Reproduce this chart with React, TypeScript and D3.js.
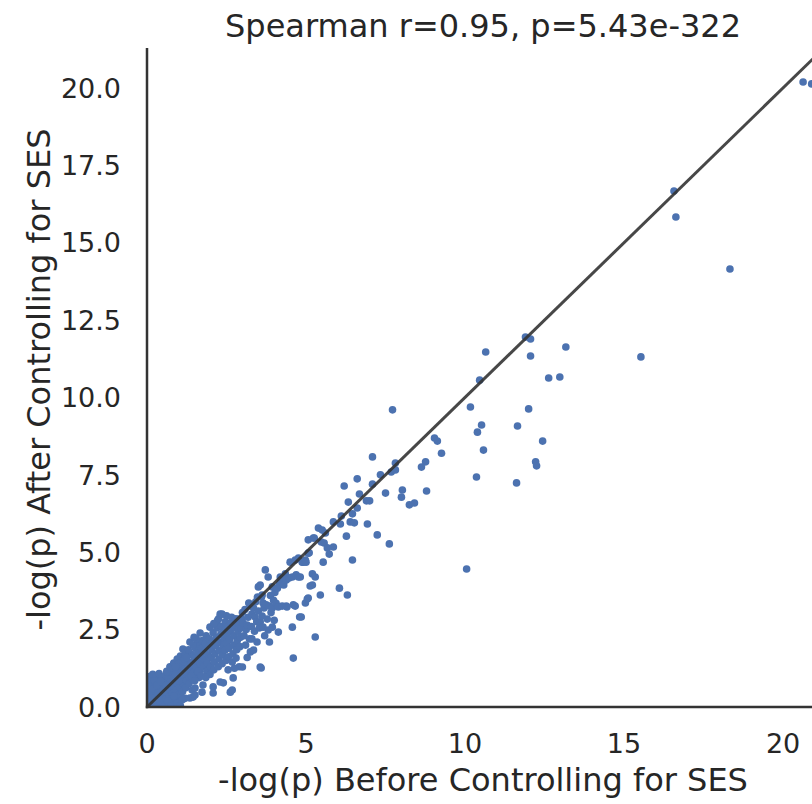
import React from "react";
import * as d3 from "d3";

// -log(p) before / after controlling for SES
const coreNearZero: [number, number][] = [
  [0.03,0.08],[0.05,0.32],[0.04,0.55],[0.06,0.78],[0.08,0.98],[0.1,0.18],[0.12,0.42],[0.14,0.66],[0.16,0.9],[0.18,1.06],
  [0.2,0.05],[0.22,0.28],[0.24,0.52],[0.26,0.76],[0.28,0.98],[0.3,0.14],[0.32,0.38],[0.34,0.62],[0.36,0.86],[0.38,1.08],
  [0.4,0.03],[0.42,0.24],[0.44,0.48],[0.46,0.72],[0.48,0.95],[0.5,0.12],[0.52,0.36],[0.54,0.6],[0.56,0.84],[0.58,1.02],
  [0.02,0.2],[0.07,0.45],[0.11,0.02],[0.15,0.3],[0.19,0.58],[0.23,0.85],[0.27,0.15],[0.31,0.7],[0.35,0.45],[0.39,0.2],
  [0.43,0.82],[0.47,0.3],[0.51,0.55],[0.55,0.04],[0.59,0.26],
  [0.62,0.48],[0.64,0.72],[0.66,0.95],[0.68,0.1],[0.7,0.32],[0.72,0.58],[0.74,0.82],[0.76,1.05],[0.78,0.2],[0.8,0.44],
  [0.82,0.68],[0.84,0.92],[0.86,1.12],[0.88,0.06],[0.9,0.3],[0.92,0.55],[0.94,0.78],[0.96,1.0],[0.98,1.2],[1.0,0.16],
  [1.02,0.4],[1.04,0.64],[1.06,0.88],[1.08,1.1],[1.1,1.3],[1.12,0.5],[1.14,0.75],[1.16,0.98],[1.18,1.18],[1.2,0.28],
  [1.22,0.62],[1.24,0.86],[1.26,1.08],[1.28,1.38],[0.65,0.2],[0.75,0.04],[0.85,0.35],[0.95,0.12],[1.05,0.04],[1.1,0.23],
  [0.7,1.15],[0.8,1.25],[0.9,1.05],[1.0,0.85],[0.6,0.7],
  [0.62,1.15],[0.72,1.3],[0.84,1.42],[0.95,1.55],[1.05,1.65],[1.0,1.4],[1.15,1.45],[0.9,1.3],
];

const lowerBand: [number, number][] = [
  [1.32,0.75],[1.34,0.98],[1.36,1.2],[1.38,1.45],[1.4,1.7],[1.35,0.29],[1.45,0.32],[1.42,0.55],[1.44,0.9],[1.46,1.12],
  [1.48,1.35],[1.5,1.58],[1.51,0.61],[1.51,0.39],[1.52,1.9],[1.54,1.02],[1.56,1.25],[1.58,1.5],[1.6,1.75],[1.62,2.05],
  [1.64,0.95],[1.66,1.18],[1.67,2.39],[1.68,1.4],[1.7,1.65],[1.72,1.9],[1.73,0.48],[1.74,2.15],[1.76,0.71],[1.78,1.3],
  [1.8,1.55],[1.82,1.8],[1.84,2.05],[1.86,2.3],[1.88,1.15],[1.9,1.42],[1.92,1.68],[1.94,1.95],[1.96,2.2],[1.98,1.05],
  [2.0,1.3],[1.13,1.87],[1.2,1.74],[1.18,1.55],[1.25,1.6],[1.3,1.85],[1.45,2.0],[1.55,2.2],[1.4,1.0],[1.6,1.15],
  [1.7,1.0],[1.85,0.95],[1.5,0.85],[1.35,2.1],[1.48,2.25],[1.98,2.58],[2.2,2.65],[2.39,2.55],
  [2.02,1.6],[2.04,1.85],[2.06,2.1],[2.08,2.4],[2.08,0.65],[2.08,0.45],[2.1,1.2],[2.12,1.45],[2.14,1.72],[2.16,1.98],
  [2.18,2.25],[2.2,2.55],[2.22,2.8],[2.24,1.3],[2.26,1.55],[2.28,1.82],[2.3,2.08],[2.3,3.0],[2.3,0.81],[2.32,2.35],
  [2.34,2.6],[2.36,1.4],[2.38,1.68],[2.4,0.78],[2.4,1.95],[2.42,2.22],[2.44,2.48],[2.46,1.84],[2.46,2.75],[2.48,1.5],
  [2.5,2.05],[2.5,2.95],[2.52,2.32],[2.54,2.6],[2.56,1.62],[2.58,1.9],[2.6,2.18],[2.62,0.48],[2.62,2.45],[2.64,2.72],
  [2.66,2.9],[2.68,0.55],[2.68,1.45],[2.7,1.72],[2.71,0.94],[2.72,2.0],[2.74,2.3],[2.76,2.58],[2.78,2.85],[2.8,1.58],
  [2.82,1.85],[2.84,2.15],[2.86,2.45],[2.87,2.84],[2.88,2.7],[2.9,1.3],[2.92,1.95],[2.94,2.25],[2.96,2.55],[2.98,2.85],
  [3.0,3.05],[2.1,2.7],[2.2,2.1],[2.25,2.85],[2.36,3.0],[2.55,1.2],[2.75,1.25],
];

const midBand: [number, number][] = [
  [3.02,2.71],[3.05,2.3],[3.08,3.15],[3.1,2.0],[3.12,2.5],[3.15,2.65],[3.18,2.9],[3.2,3.36],[3.22,2.2],[3.25,3.26],
  [3.25,1.78],[3.28,2.6],[3.3,3.0],[3.35,3.2],[3.35,1.84],[3.38,2.45],[3.4,2.91],[3.42,3.4],[3.45,2.75],[3.47,3.55],
  [3.5,3.88],[3.5,3.1],[3.53,2.55],[3.56,3.94],[3.56,2.75],[3.56,1.29],[3.59,1.26],[3.6,3.55],[3.62,3.62],[3.62,2.94],
  [3.65,3.36],[3.65,2.58],[3.68,3.2],[3.72,4.43],[3.75,3.3],[3.78,2.84],[3.81,4.2],[3.81,2.49],[3.85,3.26],[3.88,3.6],
  [3.9,3.05],[3.94,3.2],[3.94,3.88],[3.94,2.58],[3.98,3.45],[4.02,3.7],[4.06,3.35],[4.1,3.84],[4.13,3.23],[4.13,2.42],
  [4.16,3.95],[4.2,4.04],[3.0,1.29],[3.15,1.6],[3.3,2.2],[3.46,2.1],[3.7,2.3],[3.85,2.1],[4.0,2.8],
  [4.19,4.2],[4.25,3.26],[4.3,3.94],[4.35,4.3],[4.38,4.1],[4.38,3.26],[4.4,3.23],[4.47,4.17],[4.5,4.68],[4.57,4.2],
  [4.57,2.58],[4.6,3.3],[4.6,1.58],[4.66,4.75],[4.66,3.26],[4.69,4.27],[4.76,4.81],[4.76,4.2],[4.8,2.91],[4.82,4.2],
  [4.85,2.91],[4.88,4.68],[4.91,4.68],[4.98,4.75],[4.98,3.36],[5.0,4.68],[5.04,3.49],[5.07,4.97],[5.07,5.4],[5.07,3.52],
  [5.1,4.98],[5.13,3.91],[5.2,4.3],[5.2,3.94],[5.23,5.46],[5.26,5.46],[5.29,4.2],[5.29,2.26],[5.39,5.78],[5.45,3.62],
  [5.48,5.33],[5.51,5.72],[5.54,4.68],[5.57,5.3],[5.61,5.62],[5.67,5.14],[5.73,4.94],[5.86,5.98],[5.86,5.17],[6.05,3.84],
  [6.08,5.91],[6.11,6.17],[6.2,7.14],[6.27,5.52],[6.3,3.62],[6.33,6.62],[6.39,5.98],[6.46,6.24],[6.46,4.75],[6.52,5.95],
  [6.61,7.37],[6.61,6.43],[6.68,6.88],
];

const upperTail: [number, number][] = [
  [6.9,6.66],[6.93,5.91],[7.0,6.66],[7.09,8.08],[7.09,7.2],[7.24,5.56],[7.34,7.5],[7.5,6.91],[7.62,5.27],[7.68,7.59],
  [7.72,9.6],[7.81,7.88],[7.81,7.66],[8.0,6.78],[8.03,7.01],[8.25,6.53],[8.41,6.59],[8.63,7.75],[8.76,7.92],[8.79,6.98],
  [9.04,8.69],[9.13,8.59],[9.26,8.2],[10.05,4.46],[10.17,9.69],[10.36,7.43],[10.39,8.88],[10.46,10.56],[10.52,9.11],[10.58,8.3],
  [10.65,11.47],[11.62,7.24],[11.65,9.08],[11.9,11.95],[12.0,9.63],[12.06,11.89],[12.06,11.34],[12.22,7.92],[12.25,7.79],[12.44,8.59],
  [12.63,10.63],[12.98,10.66],[13.17,11.63],[15.53,11.31],[16.57,16.67],[16.63,15.83],[18.33,14.15],[20.63,20.19],[20.9,20.13],
];

const xTicks = [0, 5, 10, 15, 20];
const yTicks = [0, 2.5, 5, 7.5, 10, 12.5, 15, 17.5, 20];
const axisMax = { x: 21.13, y: 21.29 };
const titleText = "Spearman r=0.95, p=5.43e-322";
const xLabel = "-log(p) Before Controlling for SES";
const yLabel = "-log(p) After Controlling for SES";

export default function App() {
  const W = 812, H = 804;
  const left = 147, right = 819, top = 48, bottom = 707;
  const x = d3.scaleLinear().domain([0, axisMax.x]).range([left, right]);
  const y = d3.scaleLinear().domain([0, axisMax.y]).range([bottom, top]);
  const all = [...coreNearZero, ...lowerBand, ...midBand, ...upperTail];
  const lineMax = Math.min(axisMax.x, axisMax.y);
  const diag = d3.line<number>().x((d) => x(d)).y((d) => y(d))([0, lineMax]) || "";
  const font = "'DejaVu Sans', sans-serif";
  const txt = "#262626";
  return (
    <svg width={W} height={H} style={{ position: "absolute", left: 0, top: 0, background: "#fff" }} fontFamily={font}>
      <defs>
        <clipPath id="plotclip">
          <rect x={left} y={top} width={right - left} height={bottom - top} />
        </clipPath>
      </defs>
      <g clipPath="url(#plotclip)">
        {all.map((d, i) => (
          <circle key={i} cx={x(d[0])} cy={y(d[1])} r={3.8} fill="#4C72B0" />
        ))}
        <path d={diag} stroke="#333333" strokeOpacity={0.9} strokeWidth={3} fill="none" />
      </g>
      <line x1={left} x2={left} y1={top} y2={bottom + 1.2} stroke="#333" strokeWidth={2.5} />
      <line x1={left - 1.2} x2={W} y1={bottom} y2={bottom} stroke="#333" strokeWidth={2.5} />
      {xTicks.map((t) => (
        <text key={"x" + t} x={x(t)} y={753} textAnchor="middle" fontSize={27} fill={txt}>
          {t}
        </text>
      ))}
      {yTicks.map((t) => (
        <text key={"y" + t} x={121} y={y(t)} dy="0.36em" textAnchor="end" fontSize={27} fill={txt}>
          {d3.format(".1f")(t)}
        </text>
      ))}
      <text x={483} y={791} textAnchor="middle" fontSize={32} fill={txt}>{xLabel}</text>
      <text transform={`translate(50,${(top + bottom) / 2 + 2}) rotate(-90)`} textAnchor="middle" fontSize={32} fill={txt}>{yLabel}</text>
      <text x={(left + right) / 2} y={37} textAnchor="middle" fontSize={32} fill={txt}>{titleText}</text>
    </svg>
  );
}
